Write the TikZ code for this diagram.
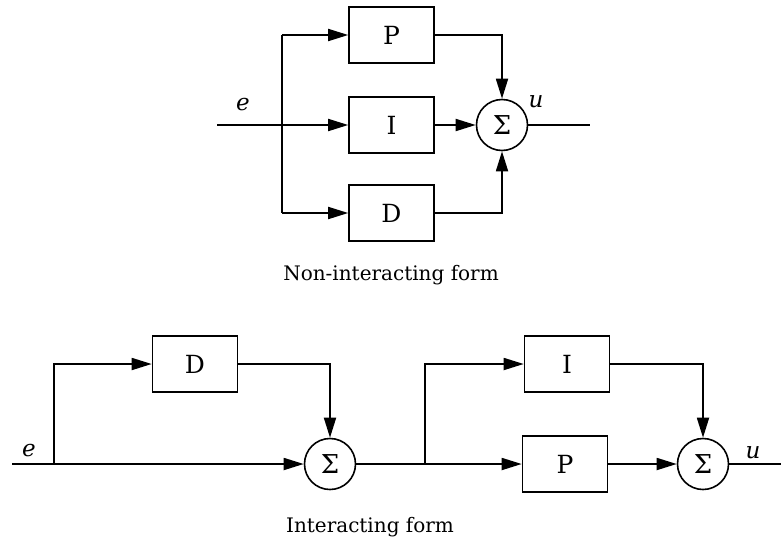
\documentclass[tikz,border=0pt]{standalone}
\usepackage{fontspec}
\setmainfont{DejaVu Serif}
\usetikzlibrary{arrows.meta}
\begin{document}
\begin{tikzpicture}[x=1pt,y=-1pt,
  blk/.style={draw,line width=1.6pt,minimum width=85pt,minimum height=56pt,inner sep=0pt,font=\fontsize{25}{29}\selectfont},
  sumnode/.style={draw,circle,line width=1.6pt,minimum size=51pt,inner sep=0pt,font=\fontsize{26}{30}\selectfont},
  sig/.style={line width=1.8pt},
  arr/.style={sig,-{Triangle[length=20pt,width=12pt]}},
  lbl/.style={font=\fontsize{23}{27}\selectfont\itshape},
  captext/.style={font=\fontsize{20}{24}\selectfont}]
\useasboundingbox (0,0) rectangle (781,544);
% ---------- top: non-interacting ----------
\node[blk] (P1) at (391.5,35) {P};
\node[blk] (I1) at (391.5,125) {I};
\node[blk] (D1) at (391.5,213) {D};
\node[sumnode] (S1) at (502,125) {Σ};
\coordinate (in1) at (217,125);
\coordinate (sp1) at (282,125);
\coordinate (out1) at (590,125);
\draw[sig] (in1) -- (sp1);
\draw[sig] (sp1 |- P1.west) -- (sp1 |- D1.west);
\draw[arr] (sp1 |- P1.west) -- (P1.west);
\draw[arr] (sp1) -- (I1.west);
\draw[arr] (sp1 |- D1.west) -- (D1.west);
\draw[arr] (P1.east) -| (S1.north);
\draw[arr] (I1.east) -- (S1.west);
\draw[arr] (D1.east) -| (S1.south);
\draw[sig] (S1.east) -- (out1);
\node[lbl] (e1) at (243,105) {e};
\node[lbl] (u1) at (536,102) {u};
\node[captext] (c1) at (391,275) {Non-interacting form};
% ---------- bottom: interacting ----------
\node[blk] (D2) at (195,364) {D};
\node[sumnode] (S2) at (330,464) {Σ};
\node[blk] (I2) at (567,364) {I};
\node[blk] (P2) at (565,464) {P};
\node[sumnode] (S3) at (703,464) {Σ};
\coordinate (in2) at (12,464);
\coordinate (sp2) at (54,464);
\coordinate (sp3) at (425,464);
\coordinate (out2) at (781,464);
\draw[sig] (in2) -- (sp2);
\draw[arr] (sp2) |- (D2.west);
\draw[arr] (sp2) -- (S2.west);
\draw[arr] (D2.east) -| (S2.north);
\draw[sig] (S2.east) -- (sp3);
\draw[arr] (sp3) |- (I2.west);
\draw[arr] (sp3) -- (P2.west);
\draw[arr] (I2.east) -| (S3.north);
\draw[arr] (P2.east) -- (S3.west);
\draw[sig] (S3.east) -- (out2);
\node[lbl] (e2) at (29,451) {e};
\node[lbl] (u2) at (753,453) {u};
\node[captext] (c2) at (370,527) {Interacting form};
\end{tikzpicture}
\end{document}
